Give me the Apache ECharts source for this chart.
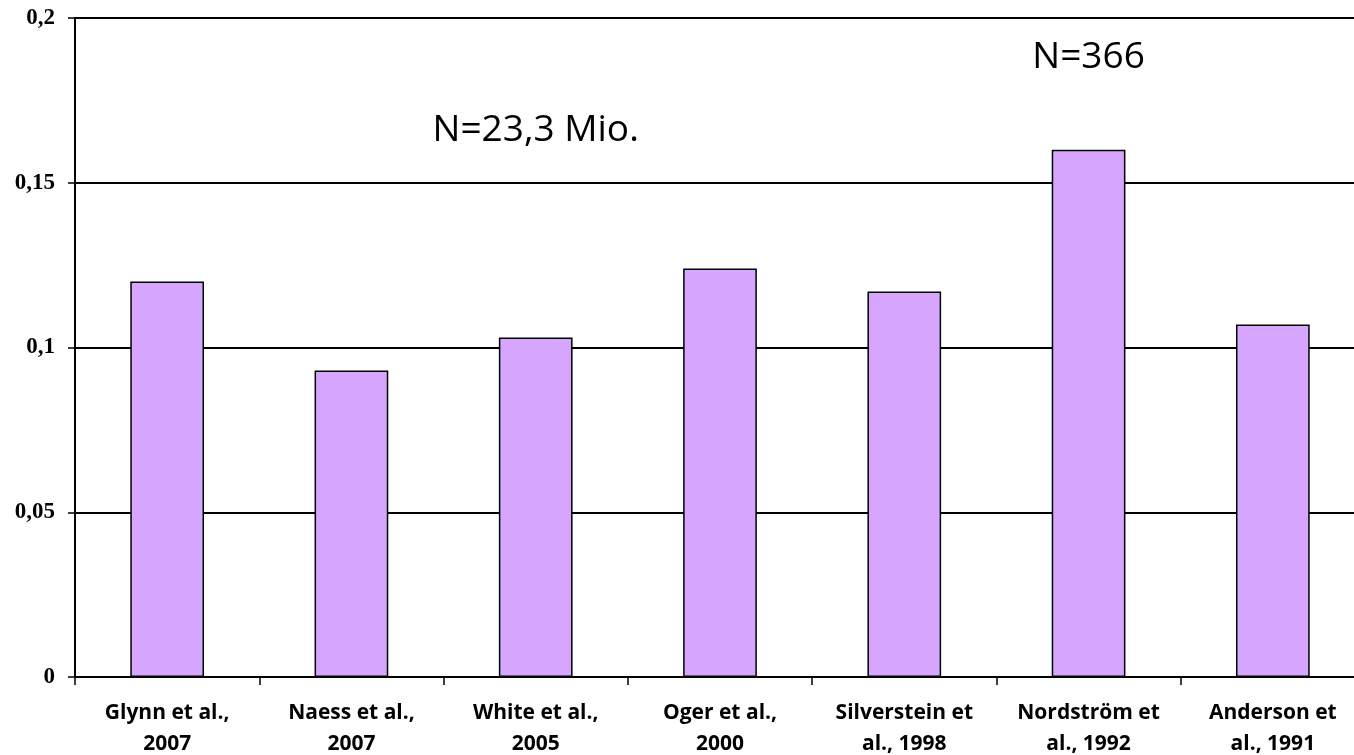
<!DOCTYPE html>
<html><head><meta charset="utf-8">
<script src="https://cdn.jsdelivr.net/npm/echarts@6/dist/echarts.min.js"></script>
<style>html,body{margin:0;padding:0;background:#fff}#c{width:1354px;height:755px}</style>
</head><body><div id="c"></div>
<script>
const categories = ['Glynn et al.,\n2007','Naess et al.,\n2007','White et al.,\n2005','Oger et al.,\n2000','Silverstein et\nal., 1998','Nordström et\nal., 1992','Anderson et\nal., 1991'];
const values = [0.12, 0.093, 0.103, 0.124, 0.117, 0.16, 0.107];
const yTickLabels = ['0','0,05','0,1','0,15','0,2'];
const annotationText = ['N=23,3 Mio.', 'N=366'];
const annotationCategory = ['White et al.,\n2005', 'Nordström et\nal., 1992'];
const annotationValue = [0.166, 0.188];

const chart = echarts.init(document.getElementById('c'));
chart.setOption({
  animation: false,
  grid: {left: 75, right: -11, top: 18, bottom: 78, containLabel: false, outerBoundsMode: 'none'},
  xAxis: {
    type: 'category', data: categories,
    axisLine: {lineStyle: {color: '#000', width: 2}},
    axisTick: {show: true, length: 8, lineStyle: {color: '#000', width: 1.5}},
    axisLabel: {interval: 0, hideOverlap: false, color: '#000', fontFamily: 'Open Sans', fontWeight: 'bold', fontSize: 21, lineHeight: 31, margin: 21}
  },
  yAxis: {
    type: 'value', min: 0, max: 0.2, interval: 0.05,
    axisLine: {show: true, lineStyle: {color: '#000', width: 2}},
    axisTick: {show: true, length: 7, lineStyle: {color: '#000', width: 1.5}},
    splitLine: {lineStyle: {color: '#000', width: 2}},
    axisLabel: {color: '#000', fontFamily: 'Liberation Serif', fontWeight: 'bold', fontSize: 23, margin: 20,
      formatter: (v) => yTickLabels[Math.round(v / 0.05)]}
  },
  series: [{
    type: 'bar', data: values, barWidth: '40%',
    itemStyle: {color: '#D6A6FF', borderColor: '#000', borderWidth: 1.5},
    markPoint: {
      symbol: 'circle', symbolSize: 1,
      itemStyle: {color: 'rgba(0,0,0,0)'},
      data: annotationText.map((t, i) => ({coord: [annotationCategory[i], annotationValue[i]], value: t})),
      label: {show: true, position: 'inside', formatter: (p) => p.value, color: '#000',
        fontFamily: 'Open Sans', fontSize: 37}
    }
  }]
});
</script></body></html>
